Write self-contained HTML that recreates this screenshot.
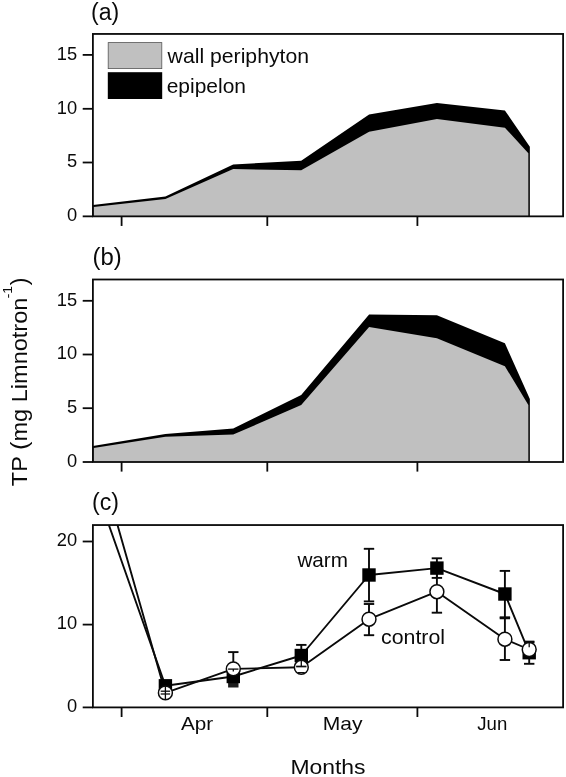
<!DOCTYPE html>
<html lang="en">
<head>
<meta charset="utf-8">
<title>TP in periphyton and water column</title>
<style>html,body{margin:0;padding:0;background:#fff}svg{display:block;filter:grayscale(1)}</style>
</head>
<body>
<svg width="566" height="777" viewBox="0 0 566 777" font-family='"Liberation Sans", sans-serif' fill="#0a0a0a">
<rect width="566" height="777" fill="#fff"/>
<polygon points="92.9,216.35 92.9,204.9 165.4,196.4 233.2,164.4 301.2,160.8 369.1,114.4 436.9,103.1 504.9,110.4 529.85,146.8 529.85,216.35" fill="#000"/>
<polygon points="93.5,216.35 93.5,206.9 165.4,199.1 233.2,169.0 301.2,170.3 369.1,131.8 436.9,119.0 504.9,127.7 528.35,153.3 528.35,216.35" fill="#c0c0c0"/>
<rect x="92.9" y="33.95" width="470.20000000000005" height="182.39999999999998" fill="none" stroke="#0a0a0a" stroke-width="1.8"/>
<line x1="121.6" y1="216.35" x2="121.6" y2="225.95" stroke="#0a0a0a" stroke-width="1.8"/>
<line x1="267.3" y1="216.35" x2="267.3" y2="225.95" stroke="#0a0a0a" stroke-width="1.8"/>
<line x1="417.4" y1="216.35" x2="417.4" y2="225.95" stroke="#0a0a0a" stroke-width="1.8"/>
<line x1="82.70000000000002" y1="216.35" x2="92.9" y2="216.35" stroke="#0a0a0a" stroke-width="1.8"/>
<text x="77.1" y="221.04999999999998" font-size="18.3" text-anchor="end">0</text>
<line x1="82.70000000000002" y1="162.5" x2="92.9" y2="162.5" stroke="#0a0a0a" stroke-width="1.8"/>
<text x="77.1" y="167.2" font-size="18.3" text-anchor="end">5</text>
<line x1="82.70000000000002" y1="108.8" x2="92.9" y2="108.8" stroke="#0a0a0a" stroke-width="1.8"/>
<text x="77.1" y="113.5" font-size="18.3" text-anchor="end">10</text>
<line x1="82.70000000000002" y1="54.9" x2="92.9" y2="54.9" stroke="#0a0a0a" stroke-width="1.8"/>
<text x="77.1" y="59.6" font-size="18.3" text-anchor="end">15</text>
<text x="91.0" y="19.9" font-size="23.1" text-anchor="start">(a)</text>
<rect x="108.2" y="42.6" width="53.6" height="26" fill="#c0c0c0" stroke="#555" stroke-width="0.8"/>
<rect x="107.8" y="72.2" width="54.4" height="26.8" fill="#000"/>
<text x="167.6" y="63.0" font-size="19.8" text-anchor="start" textLength="141.4" lengthAdjust="spacingAndGlyphs">wall periphyton</text>
<text x="166.7" y="93.0" font-size="19.8" text-anchor="start" textLength="79.3" lengthAdjust="spacingAndGlyphs">epipelon</text>
<polygon points="92.9,462.0 92.9,446.0 165.4,433.9 233.2,428.4 301.2,395.0 369.1,314.4 436.9,315.3 504.9,343.3 529.85,398.9 529.85,462.0" fill="#000"/>
<polygon points="93.5,462.0 93.5,448.1 165.4,436.7 233.2,434.5 301.2,405.1 369.1,326.9 436.9,338.2 504.9,366.2 528.35,405.1 528.35,462.0" fill="#c0c0c0"/>
<rect x="92.9" y="279.5" width="470.20000000000005" height="182.5" fill="none" stroke="#0a0a0a" stroke-width="1.8"/>
<line x1="121.6" y1="462.0" x2="121.6" y2="471.6" stroke="#0a0a0a" stroke-width="1.8"/>
<line x1="267.3" y1="462.0" x2="267.3" y2="471.6" stroke="#0a0a0a" stroke-width="1.8"/>
<line x1="417.4" y1="462.0" x2="417.4" y2="471.6" stroke="#0a0a0a" stroke-width="1.8"/>
<line x1="82.70000000000002" y1="462.0" x2="92.9" y2="462.0" stroke="#0a0a0a" stroke-width="1.8"/>
<text x="77.1" y="466.7" font-size="18.3" text-anchor="end">0</text>
<line x1="82.70000000000002" y1="408.2" x2="92.9" y2="408.2" stroke="#0a0a0a" stroke-width="1.8"/>
<text x="77.1" y="412.9" font-size="18.3" text-anchor="end">5</text>
<line x1="82.70000000000002" y1="354.5" x2="92.9" y2="354.5" stroke="#0a0a0a" stroke-width="1.8"/>
<text x="77.1" y="359.2" font-size="18.3" text-anchor="end">10</text>
<line x1="82.70000000000002" y1="300.8" x2="92.9" y2="300.8" stroke="#0a0a0a" stroke-width="1.8"/>
<text x="77.1" y="305.5" font-size="18.3" text-anchor="end">15</text>
<text x="92.5" y="265.0" font-size="23.1" text-anchor="start" textLength="29.2" lengthAdjust="spacingAndGlyphs">(b)</text>
<clipPath id="cc"><rect x="92.9" y="525.05" width="470.20000000000005" height="182.35000000000002"/></clipPath>
<g clip-path="url(#cc)" fill="none" stroke="#0a0a0a" stroke-width="1.9" stroke-linejoin="round">
<polyline points="98.35567651632971,495.04999999999995 165.4,685.8 233.3,676.5 301.3,655.5 369.0,575.0 436.9,568.1 504.9,594.0 529.2,652.7"/>
<polyline points="108.93878462913315,495.04999999999995 165.4,692.9 233.3,668.9 301.3,667.3 369.0,619.2 436.9,591.7 504.9,639.2 529.2,649.5"/>
</g>
<line x1="233.3" y1="652.1" x2="233.3" y2="685.0" stroke="#0a0a0a" stroke-width="1.9"/>
<line x1="228.10000000000002" y1="652.1" x2="238.5" y2="652.1" stroke="#0a0a0a" stroke-width="1.9"/>
<rect x="228.10000000000002" y="682.8" width="10.4" height="4.7" fill="#1c1c1c"/>
<line x1="301.3" y1="644.9" x2="301.3" y2="666.5" stroke="#0a0a0a" stroke-width="1.9"/>
<line x1="296.1" y1="644.9" x2="306.5" y2="644.9" stroke="#0a0a0a" stroke-width="1.9"/>
<line x1="296.1" y1="666.5" x2="306.5" y2="666.5" stroke="#0a0a0a" stroke-width="1.9"/>
<line x1="369.0" y1="548.8" x2="369.0" y2="601.4" stroke="#0a0a0a" stroke-width="1.9"/>
<line x1="363.8" y1="548.8" x2="374.2" y2="548.8" stroke="#0a0a0a" stroke-width="1.9"/>
<line x1="363.8" y1="601.4" x2="374.2" y2="601.4" stroke="#0a0a0a" stroke-width="1.9"/>
<line x1="369.0" y1="604.0" x2="369.0" y2="635.2" stroke="#0a0a0a" stroke-width="1.9"/>
<line x1="363.8" y1="604.0" x2="374.2" y2="604.0" stroke="#0a0a0a" stroke-width="1.9"/>
<line x1="363.8" y1="635.2" x2="374.2" y2="635.2" stroke="#0a0a0a" stroke-width="1.9"/>
<line x1="436.9" y1="558.3" x2="436.9" y2="577.9" stroke="#0a0a0a" stroke-width="1.9"/>
<line x1="431.7" y1="558.3" x2="442.09999999999997" y2="558.3" stroke="#0a0a0a" stroke-width="1.9"/>
<line x1="431.7" y1="577.9" x2="442.09999999999997" y2="577.9" stroke="#0a0a0a" stroke-width="1.9"/>
<line x1="436.9" y1="570.7" x2="436.9" y2="612.7" stroke="#0a0a0a" stroke-width="1.9"/>
<line x1="431.7" y1="570.7" x2="442.09999999999997" y2="570.7" stroke="#0a0a0a" stroke-width="1.9"/>
<line x1="431.7" y1="612.7" x2="442.09999999999997" y2="612.7" stroke="#0a0a0a" stroke-width="1.9"/>
<line x1="504.9" y1="570.9" x2="504.9" y2="617.3" stroke="#0a0a0a" stroke-width="1.9"/>
<line x1="499.7" y1="570.9" x2="510.09999999999997" y2="570.9" stroke="#0a0a0a" stroke-width="1.9"/>
<line x1="499.7" y1="617.3" x2="510.09999999999997" y2="617.3" stroke="#0a0a0a" stroke-width="1.9"/>
<line x1="504.9" y1="618.3" x2="504.9" y2="660.0" stroke="#0a0a0a" stroke-width="1.9"/>
<line x1="499.7" y1="618.3" x2="510.09999999999997" y2="618.3" stroke="#0a0a0a" stroke-width="1.9"/>
<line x1="499.7" y1="660.0" x2="510.09999999999997" y2="660.0" stroke="#0a0a0a" stroke-width="1.9"/>
<line x1="529.2" y1="641.6" x2="529.2" y2="663.8" stroke="#0a0a0a" stroke-width="1.9"/>
<line x1="524.0" y1="641.6" x2="534.4000000000001" y2="641.6" stroke="#0a0a0a" stroke-width="1.9"/>
<line x1="524.0" y1="663.8" x2="534.4000000000001" y2="663.8" stroke="#0a0a0a" stroke-width="1.9"/>
<line x1="524.0" y1="642.3" x2="534.4000000000001" y2="642.3" stroke="#0a0a0a" stroke-width="2.2"/>
<rect x="158.70000000000002" y="679.0999999999999" width="13.4" height="13.4" fill="#000"/>
<rect x="226.60000000000002" y="669.8" width="13.4" height="13.4" fill="#000"/>
<rect x="294.6" y="648.8" width="13.4" height="13.4" fill="#000"/>
<rect x="362.3" y="568.3" width="13.4" height="13.4" fill="#000"/>
<rect x="430.2" y="561.4" width="13.4" height="13.4" fill="#000"/>
<rect x="498.2" y="587.3" width="13.4" height="13.4" fill="#000"/>
<rect x="522.5" y="646.0" width="13.4" height="13.4" fill="#000"/>
<circle cx="165.4" cy="692.9" r="6.95" fill="#fff" stroke="#0a0a0a" stroke-width="1.5"/>
<circle cx="233.3" cy="668.9" r="6.95" fill="#fff" stroke="#0a0a0a" stroke-width="1.5"/>
<circle cx="301.3" cy="667.3" r="6.95" fill="#fff" stroke="#0a0a0a" stroke-width="1.5"/>
<circle cx="369.0" cy="619.2" r="6.95" fill="#fff" stroke="#0a0a0a" stroke-width="1.5"/>
<circle cx="436.9" cy="591.7" r="6.95" fill="#fff" stroke="#0a0a0a" stroke-width="1.5"/>
<circle cx="504.9" cy="639.2" r="6.95" fill="#fff" stroke="#0a0a0a" stroke-width="1.5"/>
<circle cx="529.2" cy="649.5" r="6.95" fill="#fff" stroke="#0a0a0a" stroke-width="1.5"/>
<line x1="165.4" y1="686.2" x2="165.4" y2="699.6" stroke="#0a0a0a" stroke-width="1.3"/>
<line x1="160.70000000000002" y1="691.2" x2="170.1" y2="691.2" stroke="#0a0a0a" stroke-width="1.3"/>
<line x1="160.70000000000002" y1="694.0" x2="170.1" y2="694.0" stroke="#0a0a0a" stroke-width="1.3"/>
<line x1="228.10000000000002" y1="669.1" x2="238.5" y2="669.1" stroke="#0a0a0a" stroke-width="1.3"/>
<line x1="233.3" y1="669.1" x2="233.3" y2="671.6" stroke="#0a0a0a" stroke-width="1.3"/>
<line x1="301.3" y1="660.5" x2="301.3" y2="666.5" stroke="#0a0a0a" stroke-width="1.3"/>
<line x1="296.1" y1="666.5" x2="306.5" y2="666.5" stroke="#0a0a0a" stroke-width="1.7"/>
<line x1="297.90000000000003" y1="672.6" x2="304.7" y2="672.6" stroke="#0a0a0a" stroke-width="1.2"/>
<line x1="529.2" y1="642.6" x2="529.2" y2="647.3" stroke="#0a0a0a" stroke-width="1.3"/>
<rect x="92.9" y="525.05" width="470.20000000000005" height="182.35000000000002" fill="none" stroke="#0a0a0a" stroke-width="1.8"/>
<line x1="121.6" y1="707.4" x2="121.6" y2="717.0" stroke="#0a0a0a" stroke-width="1.8"/>
<line x1="267.3" y1="707.4" x2="267.3" y2="717.0" stroke="#0a0a0a" stroke-width="1.8"/>
<line x1="417.4" y1="707.4" x2="417.4" y2="717.0" stroke="#0a0a0a" stroke-width="1.8"/>
<line x1="82.70000000000002" y1="707.4" x2="92.9" y2="707.4" stroke="#0a0a0a" stroke-width="1.8"/>
<text x="77.1" y="712.1" font-size="18.3" text-anchor="end">0</text>
<line x1="82.70000000000002" y1="624.6" x2="92.9" y2="624.6" stroke="#0a0a0a" stroke-width="1.8"/>
<text x="77.1" y="629.3000000000001" font-size="18.3" text-anchor="end">10</text>
<line x1="82.70000000000002" y1="541.5" x2="92.9" y2="541.5" stroke="#0a0a0a" stroke-width="1.8"/>
<text x="77.1" y="546.2" font-size="18.3" text-anchor="end">20</text>
<text x="92.0" y="510.0" font-size="23.1" text-anchor="start">(c)</text>
<text x="297.4" y="566.9" font-size="19.8" text-anchor="start" textLength="50.6" lengthAdjust="spacingAndGlyphs">warm</text>
<text x="381.0" y="643.6" font-size="19.8" text-anchor="start" textLength="64.0" lengthAdjust="spacingAndGlyphs">control</text>
<text x="197.1" y="729.7" font-size="18.4" text-anchor="middle" textLength="32.2" lengthAdjust="spacingAndGlyphs">Apr</text>
<text x="342.7" y="729.7" font-size="18.4" text-anchor="middle" textLength="39.8" lengthAdjust="spacingAndGlyphs">May</text>
<text x="492.3" y="729.7" font-size="18.4" text-anchor="middle" textLength="30.0" lengthAdjust="spacingAndGlyphs">Jun</text>
<text x="328.0" y="774.2" font-size="20.5" text-anchor="middle" textLength="75.2" lengthAdjust="spacingAndGlyphs">Months</text>
<g transform="translate(27.3 486.2) rotate(-90)">
<text x="0" y="0" font-size="22.5" text-anchor="start" textLength="188.6" lengthAdjust="spacingAndGlyphs">TP <tspan font-size="24.3" dy="-0.6">(</tspan><tspan dy="0.6">mg Limnotron</tspan></text>
<text x="187.9" y="-15.4" font-size="13.7" text-anchor="start" textLength="12.4" lengthAdjust="spacingAndGlyphs">-1</text>
<text x="200.6" y="-0.6" font-size="24.3" text-anchor="start">)</text>
</g>
</svg>
</body>
</html>
